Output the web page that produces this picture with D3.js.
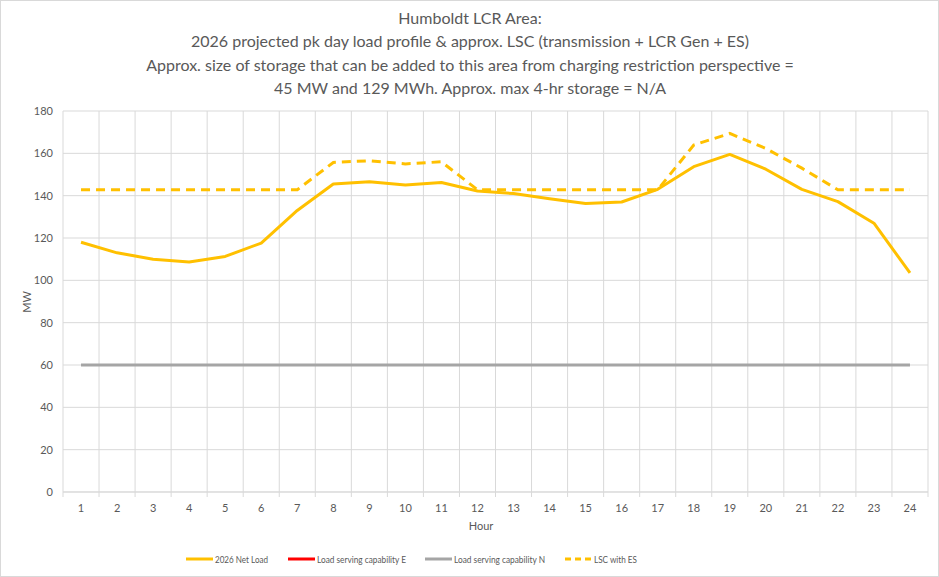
<!DOCTYPE html>
<html><head><meta charset="utf-8">
<script src="https://cdn.jsdelivr.net/npm/d3@7"></script>
<style>body{margin:0;background:#fff}svg{display:block}text{font-family:Lato,"Open Sans",sans-serif}</style>
</head><body><svg id="c" width="939" height="577"></svg>
<script>
const hours = d3.range(1, 25);
const netLoad = [118, 113, 110, 108.7, 111.3, 117.6, 133, 145.5, 146.6, 145, 146.2, 142.2, 141, 138.5, 136.3, 137, 143, 153.7, 159.5, 152.5, 143, 137.2, 127, 103.5];
const lscN = [60,60,60,60,60,60,60,60,60,60,60,60,60,60,60,60,60,60,60,60,60,60,60,60];
const lscES = [142.8,142.8,142.8,142.8,142.8,142.8,142.8,155.7,156.5,155,156,142.8,142.8,142.8,142.8,142.8,142.8,163.9,169.4,162.3,153,142.8,142.8,142.8];
const yTicks = [0,20,40,60,80,100,120,140,160,180];
const titleLines = ["Humboldt LCR Area:", "2026 projected pk day load profile & approx. LSC (transmission + LCR Gen + ES)", "Approx. size of storage that can be added to this area from charging restriction perspective =", "45 MW and 129 MWh. Approx. max 4-hr storage = N/A"];
const legendItems = [
  {name:"2026 Net Load", color:"#FFC000", dash:null},
  {name:"Load serving capability E", color:"#FF0000", dash:null},
  {name:"Load serving capability N", color:"#A5A5A5", dash:null},
  {name:"LSC with ES", color:"#FFC000", dash:"6,4"}
];

const svg = d3.select("#c");
svg.append("rect").attr("x",0.5).attr("y",0.5).attr("width",938).attr("height",576).attr("fill","#fff").attr("stroke","#d9d9d9");

const L = 63, R = 928, T = 111, B = 492;
const x = d3.scaleBand().domain(hours).range([L, R]);
const y = d3.scaleLinear().domain([0, 180]).range([B, T]);

// gridlines
const g = svg.append("g");
g.selectAll(".hg").data(yTicks).join("line")
  .attr("x1", L).attr("x2", R).attr("y1", d => y(d)).attr("y2", d => y(d))
  .attr("stroke", "#d9d9d9").attr("stroke-width", 1);
const bounds = hours.map(h => x(h)).concat([R]);
g.selectAll(".vg").data(bounds).join("line")
  .attr("x1", d => d).attr("x2", d => d).attr("y1", T).attr("y2", B + 5)
  .attr("stroke", "#d9d9d9").attr("stroke-width", 1);
g.append("line").attr("x1", L).attr("x2", R).attr("y1", B).attr("y2", B).attr("stroke", "#d9d9d9");

// axes labels
const xa = svg.append("g").attr("transform", `translate(0,${B})`)
  .call(d3.axisBottom(x).tickSize(0).tickPadding(12));
xa.select(".domain").remove();
xa.selectAll("text").attr("fill", "#595959").style("font-size", "11px").style("font-family", "Lato, sans-serif");
const ya = svg.append("g").attr("transform", `translate(${L},0)`)
  .call(d3.axisLeft(y).tickValues(yTicks).tickSize(0).tickPadding(10));
ya.select(".domain").remove();
ya.selectAll("text").attr("fill", "#595959").style("font-size", "11px").style("font-family", "Lato, sans-serif");

svg.append("text").attr("transform", "translate(31,302) rotate(-90)").attr("text-anchor", "middle")
  .attr("fill", "#595959").style("font-size", "11px").text("MW");
svg.append("text").attr("x", 481).attr("y", 530).attr("text-anchor", "middle")
  .attr("fill", "#595959").style("font-size", "11px").text("Hour");

// lines
const cx = h => x(h) + x.bandwidth() / 2;
const line = d3.line().x((d, i) => cx(hours[i])).y(d => y(d));
svg.append("path").datum(lscN).attr("d", line).attr("fill", "none").attr("stroke", "#A5A5A5").attr("stroke-width", 3);
svg.append("path").datum(netLoad).attr("d", line).attr("fill", "none").attr("stroke", "#FFC000").attr("stroke-width", 3).attr("stroke-linejoin", "round");
svg.append("path").datum(lscES).attr("d", line).attr("fill", "none").attr("stroke", "#FFC000").attr("stroke-width", 3).attr("stroke-dasharray", "9,6");

// title
svg.append("g").selectAll("text").data(titleLines).join("text")
  .attr("x", 470).attr("y", (d, i) => 24 + i * 23.3).attr("text-anchor", "middle")
  .attr("fill", "#595959").style("font-size", "16px").text(d => d);

// legend
const legX = [186, 288, 425, 565];
const legW = [53, 89, 91, 43];
const lg = svg.append("g").selectAll("g").data(legendItems).join("g")
  .attr("transform", (d, i) => `translate(${legX[i]},559)`);
lg.append("line").attr("x1", 0).attr("x2", 27).attr("y1", 0).attr("y2", 0)
  .attr("stroke", d => d.color).attr("stroke-width", 3).attr("stroke-dasharray", d => d.dash);
lg.append("text").attr("x", 29).attr("y", 4).attr("fill", "#595959").style("font-size", "10px")
  .attr("textLength", (d, i) => legW[i]).attr("lengthAdjust", "spacingAndGlyphs").text(d => d.name);
</script></body></html>
